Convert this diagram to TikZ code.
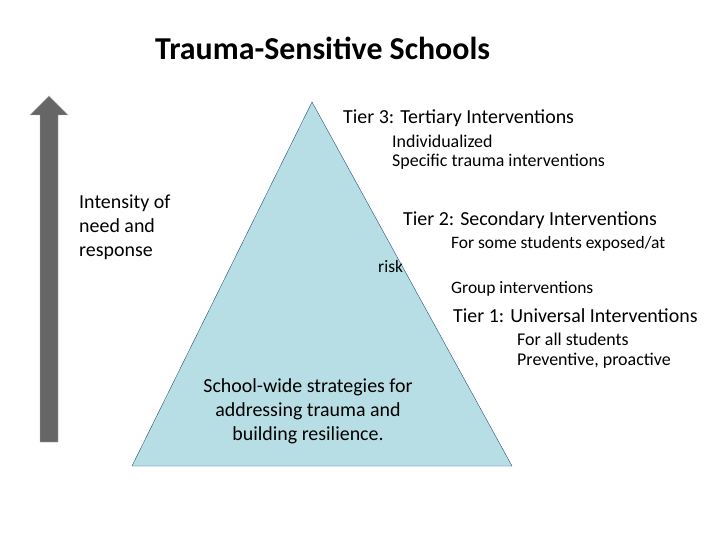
\documentclass[tikz,border=0pt]{standalone}
\usepackage{fontspec}
\setmainfont{Carlito}
\usetikzlibrary{positioning}
\definecolor{pyramid}{RGB}{183,222,228}
\definecolor{pyredge}{RGB}{40,80,120}
\definecolor{arrowgray}{RGB}{102,102,102}
\begin{document}
\begin{tikzpicture}[x=1bp,y=-1bp,
    tier/.style={anchor=west,inner sep=0pt,font=\fontsize{20}{22}\selectfont},
    detail/.style={anchor=west,inner sep=0pt,font=\fontsize{18}{22}\selectfont,align=left},
    body/.style={inner sep=0pt,font=\fontsize{20}{24}\selectfont}
    ]
    \useasboundingbox (0,0) rectangle (720,540);
    % arrow and pyramid
    \fill[arrowgray,draw=gray!60] (40,442) -- (40,115) -- (30,115) -- (49,96) -- (68,115) -- (58,115) -- (58,442) -- cycle;
    \draw[pyredge,fill=pyramid] (312,102) -- (512,466) -- (132,466) -- cycle;
    % texts
    \node (title) [anchor=west,inner sep=0pt,font=\fontsize{32}{36}\selectfont\bfseries] at (155,48) {Trauma-Sensitive Schools};
    \node (t3) [tier] at (343,118) {Tier 3: Tertiary Interventions};
    \node (t3a) [detail] at (392,141) {Individualized};
    \node (t3b) [detail] at (392,162) {Specific trauma interventions};
    \node (int) [body,anchor=north west,align=left] at (79,195) {Intensity of\\need and\\response};
    \node (t2) [tier] at (403,220) {Tier 2: Secondary Interventions};
    \node (t2a) [detail,font=\fontsize{17.5}{22}\selectfont] at (451,244) {For some students exposed/at};
    \node (t2b) [detail,font=\fontsize{17.5}{22}\selectfont] at (378,267) {risk};
    \node (t2c) [detail,font=\fontsize{17.5}{22}\selectfont] at (451,289) {Group interventions};
    \node (t1) [tier] at (453,316) {Tier 1: Universal Interventions};
    \node (t1a) [detail] at (517,339) {For all students};
    \node (t1b) [detail] at (517,361) {Preventive, proactive};
    \node (base) [body,align=center] at (308,411) {School-wide strategies for\\addressing trauma and\\building resilience.};
\end{tikzpicture}
\end{document}
